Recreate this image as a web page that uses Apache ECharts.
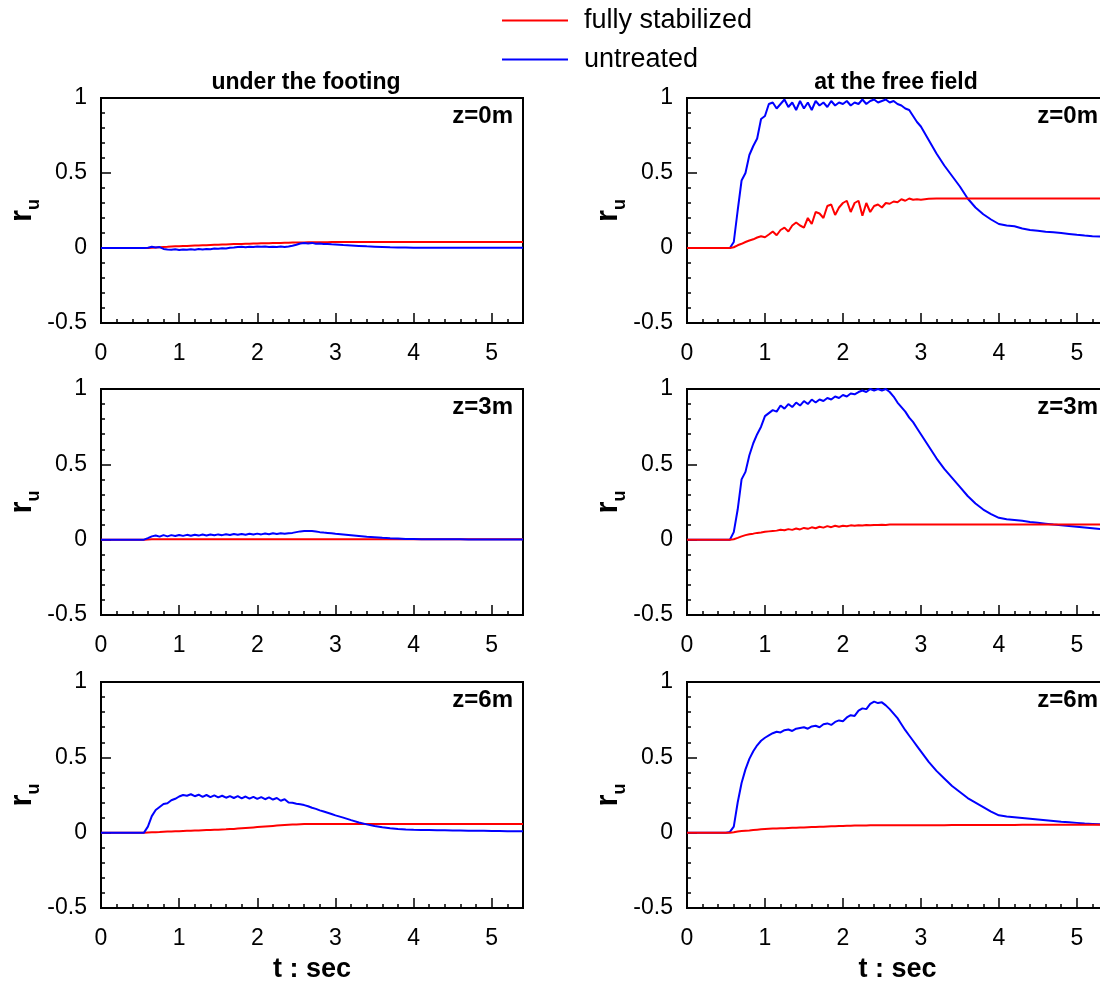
<!DOCTYPE html>
<html><head><meta charset="utf-8">
<script src="https://cdn.jsdelivr.net/npm/echarts@6/dist/echarts.min.js"></script>
<style>html,body{margin:0;padding:0;background:#fff}#c{width:1100px;height:983px}</style>
</head><body><div id="c"></div>
<script>
// time samples (s)
const T = [0,0.5,0.55,0.6,0.65,0.7,0.75,0.8,0.85,0.9,
0.95,1.0,1.05,1.1,1.15,1.2,1.25,1.3,1.35,1.4,
1.45,1.5,1.55,1.6,1.65,1.7,1.75,1.8,1.85,1.9,
1.95,2.0,2.05,2.1,2.15,2.2,2.25,2.3,2.35,2.4,
2.45,2.5,2.55,2.6,2.65,2.7,2.75,2.8,2.85,2.9,
2.95,3.0,3.1,3.2,3.3,3.4,3.5,3.6,3.7,3.8,
3.9,4.0,4.1,4.2,4.3,4.4,4.5,4.6,4.7,4.8,
4.9,5.0,5.1,5.2,5.3,5.4];

// under the footing, z=0m
const footZ0Stab = [0,0,0,0,0.001,0.003,0.005,0.007,0.008,0.01,
0.011,0.012,0.013,0.014,0.015,0.016,0.017,0.018,0.019,0.02,
0.021,0.022,0.023,0.024,0.025,0.026,0.027,0.027,0.028,0.029,
0.03,0.03,0.031,0.032,0.032,0.033,0.034,0.034,0.035,0.035,
0.036,0.036,0.037,0.037,0.038,0.038,0.038,0.039,0.039,0.039,
0.04,0.04,0.04,0.04,0.04,0.04,0.04,0.04,0.04,0.04,
0.04,0.04,0.04,0.04,0.04,0.04,0.04,0.04,0.04,0.04,
0.04,0.04,0.04,0.04,0.04,0.04];
const footZ0Unt = [0,0,0,0.002,0.008,0.004,0.006,-0.006,-0.01,-0.012,
-0.008,-0.013,-0.01,-0.012,-0.009,-0.011,-0.007,-0.01,-0.006,-0.008,
-0.004,-0.005,-0.002,-0.003,0.002,0.003,0.006,0.008,0.005,0.008,
0.006,0.01,0.008,0.01,0.007,0.009,0.007,0.01,0.006,0.01,
0.015,0.022,0.03,0.033,0.03,0.034,0.028,0.03,0.026,0.027,
0.025,0.024,0.02,0.017,0.014,0.011,0.009,0.007,0.005,0.004,
0.003,0.002,0.002,0.002,0.002,0.002,0.002,0.002,0.002,0.002,
0.002,0.002,0.002,0.002,0.002,0.002];

// under the footing, z=3m
const footZ3Stab = [0,0,0,0.001,0.002,0.002,0.003,0.003,0.003,0.003,
0.003,0.003,0.003,0.003,0.003,0.003,0.003,0.003,0.003,0.003,
0.003,0.003,0.003,0.003,0.003,0.003,0.003,0.003,0.003,0.003,
0.003,0.003,0.003,0.003,0.003,0.003,0.003,0.003,0.003,0.003,
0.003,0.003,0.003,0.003,0.003,0.003,0.003,0.003,0.003,0.003,
0.003,0.003,0.003,0.003,0.003,0.003,0.003,0.003,0.003,0.003,
0.003,0.003,0.003,0.003,0.003,0.003,0.003,0.003,0.003,0.003,
0.003,0.003,0.003,0.003,0.003,0.003];
const footZ3Unt = [0,0,0,0.01,0.022,0.028,0.02,0.03,0.022,0.03,
0.024,0.031,0.025,0.032,0.026,0.033,0.027,0.034,0.028,0.034,
0.029,0.035,0.03,0.036,0.031,0.037,0.032,0.038,0.033,0.039,
0.034,0.04,0.035,0.041,0.036,0.042,0.038,0.042,0.04,0.043,
0.045,0.05,0.055,0.057,0.058,0.057,0.054,0.05,0.047,0.045,
0.043,0.04,0.035,0.03,0.025,0.02,0.016,0.012,0.009,0.007,
0.005,0.004,0.003,0.003,0.002,0.002,0.002,0.002,0.001,0.001,
0.001,0.001,0.001,0.001,0.001,0.001];

// under the footing, z=6m
const footZ6Stab = [0,0,0,0.001,0.002,0.003,0.004,0.006,0.007,0.008,
0.009,0.01,0.011,0.012,0.013,0.014,0.015,0.016,0.017,0.018,
0.019,0.02,0.021,0.022,0.024,0.025,0.027,0.029,0.031,0.033,
0.035,0.037,0.039,0.041,0.043,0.045,0.047,0.049,0.051,0.053,
0.054,0.055,0.056,0.057,0.057,0.058,0.058,0.058,0.058,0.058,
0.058,0.058,0.058,0.058,0.058,0.058,0.058,0.058,0.058,0.058,
0.058,0.058,0.058,0.058,0.058,0.058,0.058,0.058,0.058,0.058,
0.058,0.058,0.058,0.058,0.058,0.058];
const footZ6Unt = [0,0,0,0.04,0.11,0.15,0.17,0.19,0.195,0.215,
0.225,0.24,0.25,0.245,0.255,0.242,0.252,0.238,0.25,0.236,
0.247,0.234,0.245,0.232,0.243,0.23,0.242,0.228,0.24,0.226,
0.238,0.224,0.236,0.222,0.234,0.22,0.23,0.212,0.222,0.2,
0.198,0.192,0.188,0.183,0.175,0.165,0.158,0.148,0.14,0.132,
0.124,0.115,0.1,0.083,0.068,0.055,0.044,0.036,0.03,0.025,
0.021,0.019,0.018,0.017,0.016,0.016,0.015,0.014,0.013,0.013,
0.012,0.011,0.011,0.01,0.01,0.009];

// at the free field, z=0m
const freeZ0Stab = [0,0,0,0.005,0.018,0.028,0.04,0.05,0.058,0.07,
0.078,0.072,0.09,0.11,0.085,0.12,0.136,0.11,0.15,0.17,
0.15,0.136,0.2,0.16,0.24,0.23,0.2,0.28,0.29,0.22,
0.27,0.3,0.315,0.24,0.3,0.315,0.215,0.3,0.24,0.28,
0.29,0.27,0.3,0.295,0.31,0.305,0.325,0.315,0.33,0.322,
0.325,0.322,0.328,0.33,0.33,0.33,0.33,0.33,0.33,0.33,
0.33,0.33,0.33,0.33,0.33,0.33,0.33,0.33,0.33,0.33,
0.33,0.33,0.33,0.33,0.33,0.33];
const freeZ0Unt = [0,0,0,0.04,0.25,0.45,0.5,0.62,0.68,0.73,
0.86,0.88,0.96,0.97,0.93,0.96,0.99,0.94,0.97,0.92,
0.98,0.93,0.97,0.92,0.98,0.95,0.97,0.94,0.98,0.95,
0.97,0.96,0.98,0.95,0.97,0.96,0.99,0.96,0.98,0.99,
0.97,0.98,0.99,0.97,0.98,0.96,0.95,0.93,0.92,0.88,
0.84,0.81,0.72,0.63,0.55,0.48,0.41,0.33,0.27,0.225,
0.19,0.16,0.15,0.145,0.13,0.12,0.115,0.108,0.105,0.1,
0.094,0.088,0.083,0.079,0.076,0.072];

// at the free field, z=3m
const freeZ3Stab = [0,0,0,0.003,0.012,0.022,0.03,0.036,0.04,0.045,
0.048,0.052,0.055,0.058,0.06,0.066,0.062,0.07,0.065,0.074,
0.068,0.078,0.072,0.082,0.076,0.086,0.08,0.09,0.083,0.092,
0.086,0.092,0.089,0.095,0.092,0.096,0.094,0.097,0.095,0.098,
0.097,0.099,0.098,0.1,0.1,0.1,0.1,0.1,0.1,0.1,
0.1,0.1,0.1,0.1,0.1,0.1,0.1,0.1,0.1,0.1,
0.1,0.1,0.1,0.1,0.1,0.1,0.1,0.1,0.1,0.1,
0.1,0.1,0.1,0.1,0.1,0.1];
const freeZ3Unt = [0,0,0,0.05,0.2,0.4,0.45,0.56,0.64,0.7,
0.75,0.82,0.84,0.86,0.85,0.89,0.87,0.9,0.88,0.91,
0.89,0.92,0.9,0.93,0.91,0.93,0.92,0.94,0.93,0.95,
0.94,0.96,0.95,0.97,0.965,0.98,0.99,0.98,1.0,0.99,
1.0,0.99,1.0,0.98,0.95,0.91,0.88,0.85,0.81,0.78,
0.74,0.7,0.62,0.54,0.47,0.41,0.35,0.29,0.24,0.2,
0.17,0.145,0.135,0.13,0.125,0.118,0.112,0.106,0.1,0.095,
0.09,0.085,0.08,0.075,0.07,0.066];

// at the free field, z=6m
const freeZ6Stab = [0,0,0,0.003,0.008,0.011,0.013,0.015,0.018,0.02,
0.022,0.024,0.026,0.027,0.028,0.029,0.03,0.031,0.032,0.033,
0.034,0.035,0.036,0.037,0.038,0.039,0.04,0.041,0.042,0.043,
0.044,0.045,0.046,0.046,0.047,0.047,0.048,0.048,0.049,0.049,
0.05,0.05,0.05,0.05,0.05,0.05,0.05,0.05,0.05,0.05,
0.05,0.05,0.05,0.05,0.05,0.051,0.051,0.051,0.051,0.051,
0.051,0.051,0.051,0.051,0.052,0.052,0.052,0.052,0.052,0.052,
0.052,0.052,0.052,0.052,0.052,0.052];
const freeZ6Unt = [0,0,0.005,0.04,0.2,0.33,0.42,0.49,0.54,0.58,
0.61,0.63,0.645,0.66,0.67,0.665,0.68,0.685,0.675,0.69,
0.695,0.7,0.69,0.705,0.71,0.7,0.72,0.725,0.715,0.735,
0.745,0.74,0.765,0.78,0.775,0.81,0.825,0.82,0.855,0.87,
0.86,0.865,0.845,0.82,0.79,0.76,0.72,0.68,0.645,0.61,
0.575,0.54,0.47,0.41,0.36,0.31,0.27,0.23,0.2,0.17,
0.14,0.115,0.108,0.103,0.098,0.093,0.088,0.083,0.078,0.073,
0.069,0.065,0.061,0.058,0.055,0.052];

const xMajorTicks = [0,1,2,3,4,5];
const yTicks = [-0.5,0,0.5,1];
const colTitles = ['under the footing','at the free field'];
const depthLabels = ['z=0m','z=3m','z=6m'];
const seriesNames = ['fully stabilized','untreated'];

const panels = [
  {stab: footZ0Stab, unt: footZ0Unt, col:0, row:0},
  {stab: freeZ0Stab, unt: freeZ0Unt, col:1, row:0},
  {stab: footZ3Stab, unt: footZ3Unt, col:0, row:1},
  {stab: freeZ3Stab, unt: freeZ3Unt, col:1, row:1},
  {stab: footZ6Stab, unt: footZ6Unt, col:0, row:2},
  {stab: freeZ6Stab, unt: freeZ6Unt, col:1, row:2}
];

const FONT = '"Liberation Sans", Arial, Helvetica, sans-serif';
const colLeft = [101, 687];
const colWidth = [422, 421];
const rowTop = [98, 389, 682];
const rowHeight = [225, 226, 226];

const grid = [], xAxis = [], yAxis = [], series = [], graphic = [];
panels.forEach((p, i) => {
  grid.push({left: colLeft[p.col], top: rowTop[p.row], width: colWidth[p.col], height: rowHeight[p.row],
    outerBoundsMode: 'none', containLabel: false,
    show: true, borderColor: '#000', borderWidth: 2, backgroundColor: 'transparent'});
  // main x axis
  xAxis.push({type: 'value', gridIndex: i, min: 0, max: 5.4, interval: 1,
    name: p.row === 2 ? 't : sec' : '', nameLocation: 'middle', nameGap: 48,
    nameTextStyle: {fontFamily: FONT, fontWeight: 'bold', fontSize: 27, color: '#000'},
    axisLine: {show: true, onZero: false, lineStyle: {color: '#000', width: 2}},
    axisTick: {show: true, inside: true, length: 10, lineStyle: {color: '#000', width: 1.5}},
    minorTick: {show: false},
    splitLine: {show: false},
    axisLabel: {show: true, margin: 19, fontFamily: FONT, fontSize: 23, color: '#000',
      formatter: v => (xMajorTicks.indexOf(Math.round(v * 1000) / 1000) >= 0 ? String(v) : '')}
  });
  // minor x ticks
  xAxis.push({type: 'value', gridIndex: i, min: 0, max: 5.4, interval: 0.2, position: 'bottom',
    axisLine: {show: false, onZero: false}, axisLabel: {show: false}, splitLine: {show: false},
    axisTick: {show: true, inside: true, length: 4, lineStyle: {color: '#000', width: 1.5}}
  });
  yAxis.push({type: 'value', gridIndex: i, min: -0.5, max: 1, interval: 0.5,
    name: '{r|r}{u|u}', nameLocation: 'middle', nameGap: 58, nameRotate: 90,
    nameTextStyle: {color: '#000', rich: {
      r: {fontFamily: FONT, fontWeight: 'bold', fontSize: 31, lineHeight: 36, verticalAlign: 'top', color: '#000'},
      u: {fontFamily: FONT, fontWeight: 'bold', fontSize: 18, verticalAlign: 'bottom', color: '#000'}
    }},
    axisLine: {show: true, onZero: false, lineStyle: {color: '#000', width: 2}},
    axisTick: {show: true, inside: true, length: 10, lineStyle: {color: '#000', width: 1.5}},
    minorTick: {show: true, splitNumber: 5, length: 4, lineStyle: {color: '#000', width: 1.5}},
    splitLine: {show: false},
    axisLabel: {show: true, margin: 14, fontFamily: FONT, fontSize: 23, color: '#000',
      formatter: v => String(v)}
  });
  const red = {name: seriesNames[0], type: 'line', xAxisIndex: 2 * i, yAxisIndex: i,
    data: T.map((t, k) => [t, p.stab[k]]), showSymbol: false, symbol: 'none',
    lineStyle: {color: '#ff0000', width: 2}, itemStyle: {color: '#ff0000'}, animation: false};
  const blue = {name: seriesNames[1], type: 'line', xAxisIndex: 2 * i, yAxisIndex: i,
    data: T.map((t, k) => [t, p.unt[k]]), showSymbol: false, symbol: 'none',
    lineStyle: {color: '#0000ff', width: 2}, itemStyle: {color: '#0000ff'}, animation: false};
  if (p.col === 0) { series.push(red, blue); } else { series.push(blue, red); }
  // depth label
  graphic.push({type: 'text', x: colLeft[p.col] + colWidth[p.col] - 10, y: rowTop[p.row] + 18,
    style: {text: depthLabels[p.row], fill: '#000', font: 'bold 24px ' + FONT, align: 'right', verticalAlign: 'middle'}});
});
graphic.push({type: 'text', x: 306, y: 83, style: {text: colTitles[0], fill: '#000', font: 'bold 23px ' + FONT, align: 'center', verticalAlign: 'middle'}});
graphic.push({type: 'text', x: 896, y: 83, style: {text: colTitles[1], fill: '#000', font: 'bold 23px ' + FONT, align: 'center', verticalAlign: 'middle'}});

const chart = echarts.init(document.getElementById('c'), null, {renderer: 'canvas'});
chart.setOption({
  animation: false,
  backgroundColor: '#fff',
  legend: {data: seriesNames, orient: 'vertical', left: 502, top: 7, itemWidth: 66, itemHeight: 2, itemGap: 12,
    icon: 'rect', padding: 0,
    textStyle: {fontFamily: FONT, fontSize: 27, color: '#000', padding: [0, 0, 0, 11]}},
  grid, xAxis, yAxis, series, graphic
});
</script></body></html>
